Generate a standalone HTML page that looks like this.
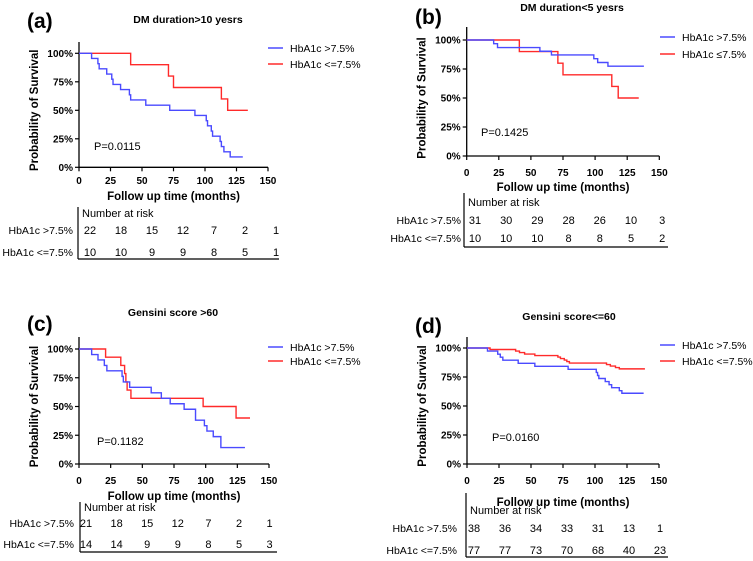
<!DOCTYPE html>
<html><head><meta charset="utf-8"><style>
body{margin:0;background:#fff;}
svg{display:block;font-family:"Liberation Sans",Arial,sans-serif;}
</style></head><body>
<svg id="fig" width="753" height="561" viewBox="0 0 753 561" xmlns="http://www.w3.org/2000/svg"></svg>
<script>
// ---- data ----
const xTicks=[0,25,50,75,100,125,150];
const yTicks=[0,25,50,75,100];
const aBlueT=[0,10,15,16,22,26,27,33,40,41,53,72,92,101,102,105,106,112,113,115,120,130];
const aBlueS=[100,95.5,90.9,86.4,81.8,77.3,72.7,68.2,63.6,59.1,54.5,50,45.5,40.9,36.4,31.8,27.3,22.7,18.2,13.6,9.1,9.1];
const aRedT=[0,41,71,75,113,118,134];
const aRedS=[100,90,80,70,60,50,50];
const bBlueT=[0,21,24,57,66,99,102,110,138];
const bBlueS=[100,96.8,93.5,90.3,87.1,83.9,80.6,77.4,77.4];
const bRedT=[0,41,71,75,113,118,134];
const bRedS=[100,90,80,70,60,50,50];
const cBlueT=[0,10,15,20,22,34,35,40,57,65,72,83,92,99,101,106,112,131];
const cBlueS=[100,95.2,90.5,85.7,81,76.2,71.4,66.7,61.9,57.1,52.4,47.6,38.1,33.3,28.6,23.8,14.3,14.3];
const cRedT=[0,21,33,36,37,38,41,98,124,135];
const cRedS=[100,92.9,85.7,78.6,71.4,64.3,57.1,50,40,40];
const dBlueT=[0,16,24,26,28,40,53,79,101,102,103,108,111,113,119,121,138];
const dBlueS=[100,97.4,94.7,92.1,89.5,86.8,84.2,81.6,78.9,76.3,73.7,71.1,68.4,65.8,63.2,61,61];
const dRedT=[0,18,38,41,45,53,71,73,76,78,80,109,112,116,119,139];
const dRedS=[100,98.7,97.4,96.1,94.8,93.5,92.2,90.9,89.6,88.3,87,85.7,84.4,83.1,82,82];
const aRiskHigh=[22,18,15,12,7,2,1], aRiskLow=[10,10,9,9,8,5,1];
const bRiskHigh=[31,30,29,28,26,10,3], bRiskLow=[10,10,10,8,8,5,2];
const cRiskHigh=[21,18,15,12,7,2,1], cRiskLow=[14,14,9,9,8,5,3];
const dRiskHigh=[38,36,34,33,31,13,1], dRiskLow=[77,77,73,70,68,40,23];
const pvals=["P=0.0115","P=0.1425","P=0.1182","P=0.0160"];
const titles=["DM duration>10 yesrs","DM duration<5 yesrs","Gensini score >60","Gensini score<=60"];
const letters=["(a)","(b)","(c)","(d)"];
const lowLabels=["HbA1c <=7.5%","HbA1c \u22647.5%","HbA1c <=7.5%","HbA1c <=7.5%"];

const BLUE="#4a4aff", RED="#ff2a2a";
const svg=document.getElementById('fig');
const NS="http://www.w3.org/2000/svg";
function el(tag,attrs,text,parent){const e=document.createElementNS(NS,tag);for(const k in attrs)e.setAttribute(k,attrs[k]);if(text!==undefined)e.textContent=text;(parent||svg).appendChild(e);return e;}

const panels=[
 {id:'a',x0:79,x1:268,y100:53.3,y0:167.3,top:42,title:[188,23],let:[27,28],leg:[268,48,64],xlab:196,tick:181,
  tab:{vx:78,vt:207,vb:259,hr:279,nar:217,r1:234,r2:256,lab:73,cx0:90,dx:31},blue:[aBlueT,aBlueS],red:[aRedT,aRedS],risk:[aRiskHigh,aRiskLow],p:[94,150]},
 {id:'b',x0:466.7,x1:659.3,y100:40,y0:156,top:27,title:[572,11],let:[415,24],leg:[660,37,54],xlab:187,tick:173,
  tab:{vx:464,vt:193,vb:247,hr:668,nar:206,r1:224,r2:242,lab:461,cx0:475,dx:31.2},blue:[bBlueT,bBlueS],red:[bRedT,bRedS],risk:[bRiskHigh,bRiskLow],p:[481,136]},
 {id:'c',x0:79,x1:269,y100:349,y0:464,top:337,title:[173,316],let:[27,331],leg:[268,347,361],xlab:496,tick:481,
  tab:{vx:80,vt:502,vb:552,hr:277,nar:511,r1:527,r2:548,lab:74,cx0:86,dx:30.6},blue:[cBlueT,cBlueS],red:[cRedT,cRedS],risk:[cRiskHigh,cRiskLow],p:[97,445]},
 {id:'d',x0:467,x1:659,y100:348,y0:464,top:337,title:[569,320],let:[415,333],leg:[660,345,361],xlab:502,tick:481,
  tab:{vx:466,vt:493,vb:557,hr:668,nar:514,r1:532,r2:554,lab:457,cx0:474,dx:31},blue:[dBlueT,dBlueS],red:[dRedT,dRedS],risk:[dRiskHigh,dRiskLow],p:[492,441]}
];

panels.forEach((P,i)=>{
 const g=el('g',{});
 
 
 const xs=t=>P.x0+(P.x1-P.x0)*t/150;
 const ys=s=>P.y0-(P.y0-P.y100)*s/100;
 const lt=el('text',{x:P.let[0],y:P.let[1],'font-size':21,'font-weight':'bold'},letters[i],g);
 
 const tt=el('text',{x:P.title[0],y:P.title[1],'font-size':10.5,'font-weight':'bold','text-anchor':'middle'},titles[i],g);
 
 const ya=el('line',{x1:P.x0,y1:P.top,x2:P.x0,y2:P.y0,stroke:'#000','stroke-width':1.3},undefined,g);
 
 const xa=el('line',{x1:P.x0,y1:P.y0,x2:P.x1,y2:P.y0,stroke:'#000','stroke-width':1.3},undefined,g);
 
 yTicks.forEach(v=>{
  el('line',{x1:P.x0-4,y1:ys(v),x2:P.x0,y2:ys(v),stroke:'#000','stroke-width':1.2},undefined,g);
  const t=el('text',{x:P.x0-6,y:ys(v)+3.5,'font-size':10,'font-weight':'bold','text-anchor':'end'},v+'%',g);
  
 });
 xTicks.forEach(v=>{
  el('line',{x1:xs(v),y1:P.y0,x2:xs(v),y2:P.y0+4,stroke:'#000','stroke-width':1.2},undefined,g);
  const t=el('text',{x:xs(v),y:P.tick+3,'font-size':10,'font-weight':'bold','text-anchor':'middle'},v,g);
  
 });
 const yl=el('text',{x:0,y:0,'font-size':11.5,'font-weight':'bold','text-anchor':'middle',transform:`translate(${P.x0-41},${(P.y0+P.y100)/2}) rotate(-90)`},'Probability of Survival',g);
 
 const xl=el('text',{x:(P.x0+P.x1)/2,y:P.xlab+4,'font-size':11.5,'font-weight':'bold','text-anchor':'middle'},'Follow up time (months)',g);
 
 const pv=el('text',{x:P.p[0],y:P.p[1],'font-size':11},pvals[i],g);
 
 [[P.red,RED,'survival-curve-low'],[P.blue,BLUE,'survival-curve-high']].forEach(([d,c,n])=>{
  const T=d[0],S=d[1];let p=`M${xs(T[0])},${ys(S[0])}`;
  for(let k=1;k<T.length;k++){p+=` H${xs(T[k])} V${ys(S[k])}`;}
  const path=el('path',{d:p,fill:'none',stroke:c,'stroke-width':1.4},undefined,g);
  
 });
 [[BLUE,'HbA1c >7.5%',P.leg[1]],[RED,lowLabels[i],P.leg[2]]].forEach(([c,l,y],k)=>{
  const lg=el('g',{},undefined,g);
  
  el('line',{x1:P.leg[0],y1:y,x2:P.leg[0]+15,y2:y,stroke:c,'stroke-width':1.5},undefined,lg);
  el('text',{x:P.leg[0]+22,y:y+4,'font-size':10.5},l,lg);
 });
 const T=P.tab;
 const tb=el('g',{},undefined,g);
 
 el('line',{x1:T.vx,y1:T.vt,x2:T.vx,y2:T.vb,stroke:'#000','stroke-width':1.2},undefined,tb);
 el('line',{x1:T.vx,y1:T.vb,x2:T.hr,y2:T.vb,stroke:'#000','stroke-width':1.2},undefined,tb);
 el('text',{x:T.vx+4,y:T.nar,'font-size':11},'Number at risk',tb);
 el('text',{x:T.lab,y:T.r1,'font-size':10.5,'text-anchor':'end'},'HbA1c >7.5%',tb);
 el('text',{x:T.lab,y:T.r2,'font-size':10.5,'text-anchor':'end'},'HbA1c <=7.5%',tb);
 P.risk.forEach((arr,r)=>{
  arr.forEach((v,k)=>{
   const t=el('text',{x:T.cx0+T.dx*k,y:r?T.r2:T.r1,'font-size':11,'text-anchor':'middle'},v,tb);
   
  });
 });
});
</script>
</body></html>
